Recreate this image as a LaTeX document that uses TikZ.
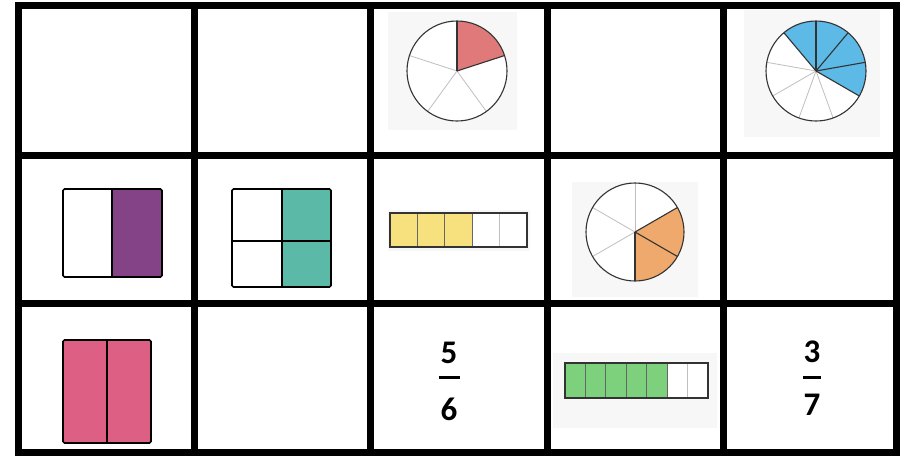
\documentclass[tikz,border=0pt]{standalone}
\usepackage{fontspec}
\newfontfamily\fracfont{Carlito}

\definecolor{picbg}{HTML}{F7F7F7}
\definecolor{sliceRed}{HTML}{E07A7A}
\definecolor{sliceBlue}{HTML}{5DB9E6}
\definecolor{sliceOrange}{HTML}{F0A96D}
\definecolor{partPurple}{HTML}{844387}
\definecolor{partTeal}{HTML}{5BB9A7}
\definecolor{partPink}{HTML}{DE5F84}
\definecolor{stripYellow}{HTML}{F7E07E}
\definecolor{stripGreen}{HTML}{7DD17C}

\tikzset{
  darkline/.style={line width=1.1pt, black!80},
  paleline/.style={line width=0.8pt, black!25},
  partline/.style={line width=1.6pt, black, rounded corners=1.5pt},
  gridline/.style={line width=7pt, black},
  fracdigit/.style={font=\fracfont\bfseries\fontsize{33}{33}\selectfont, inner sep=0pt, anchor=base},
  fracbar/.style={line width=3pt, black}
}

\begin{document}
\begin{tikzpicture}[x=1pt, y=-1pt]
  \useasboundingbox (0,0) rectangle (901,456);
  \fill[white] (0,0) rectangle (901,456);

  % Pie in row 1, column 3 : one fifth
  \fill[picbg] (388,12) rectangle (517,130);
  \fill[white] (457,71) circle (50pt);
  \fill[sliceRed] (457,71) -- ++(90:50pt) arc[start angle=90, end angle=18, radius=50pt] -- cycle;
  \draw[paleline] (457,71) -- ++(162:50pt);
  \draw[paleline] (457,71) -- ++(234:50pt);
  \draw[paleline] (457,71) -- ++(306:50pt);
  \draw[darkline] (457,71) -- ++(90:50pt);
  \draw[darkline] (457,71) -- ++(18:50pt);
  \draw[darkline] (457,71) circle (50pt);

  % Pie in row 1, column 5 : four ninths
  \fill[picbg] (744,10) rectangle (880,137);
  \fill[white] (816,71) circle (50pt);
  \fill[sliceBlue] (816,71) -- ++(130:50pt) arc[start angle=130, end angle=-30, radius=50pt] -- cycle;
  \foreach \a in {170,210,250,290}
    \draw[paleline] (816,71) -- ++(\a:50pt);
  \foreach \a in {130,90,50,10,-30}
    \draw[darkline] (816,71) -- ++(\a:50pt);
  \draw[darkline] (816,71) circle (50pt);

  % Pie in row 2, column 4 : two sixths
  \fill[picbg] (572,182) rectangle (698,297);
  \fill[white] (635,232) circle (49pt);
  \fill[sliceOrange] (635,232) -- ++(30:49pt) arc[start angle=30, end angle=-90, radius=49pt] -- cycle;
  \foreach \a in {90,150,210}
    \draw[paleline] (635,232) -- ++(\a:49pt);
  \foreach \a in {30,-30,-90}
    \draw[darkline] (635,232) -- ++(\a:49pt);
  \draw[darkline] (635,232) circle (49pt);

  % Halves and quarters
  \fill[white] (63,189) rectangle (112,277);
  \fill[partPurple] (112,189) rectangle (162,277);
  \draw[partline] (63,189) rectangle (162,277);
  \draw[line width=1.6pt] (112,189) -- (112,277);

  \fill[white] (232,189) rectangle (282,287);
  \fill[partTeal] (282,189) rectangle (331,287);
  \draw[partline] (232,189) rectangle (331,287);
  \draw[line width=1.6pt] (282,189) -- (282,287);
  \draw[line width=1.6pt] (232,241) -- (331,241);

  \fill[partPink] (63,340) rectangle (151,443);
  \draw[partline] (63,340) rectangle (151,443);
  \draw[line width=1.6pt] (107,340) -- (107,443);

  % Strips
  \fill[picbg] (388,210) rectangle (530,251);
  \fill[white] (390,213) rectangle (527,247);
  \fill[stripYellow] (390,213) rectangle (472.2,247);
  \draw[paleline] (499.6,213) -- (499.6,247);
  \draw[darkline, black!60] (417.4,213) -- (417.4,247);
  \draw[darkline, black!60] (444.8,213) -- (444.8,247);
  \draw[darkline, black!60] (472.2,213) -- (472.2,247);
  \draw[darkline] (390,213) rectangle (527,247);

  \fill[picbg] (553,353) rectangle (717,428);
  \fill[white] (565,363) rectangle (708,398);
  \fill[stripGreen] (565,363) rectangle (667.1,398);
  \draw[paleline] (687.6,363) -- (687.6,398);
  \foreach \x in {585.4,605.9,626.3,646.7,667.1}
    \draw[darkline, black!60] (\x,363) -- (\x,398);
  \draw[darkline] (565,363) rectangle (708,398);

  % Fractions
  \node[fracdigit] (num5) at (449,363) {5};
  \node[fracdigit] (den6) at (449,420) {6};
  \draw[fracbar] (438.5,377) -- (459.5,377);

  \node[fracdigit] (num3) at (812,362) {3};
  \node[fracdigit] (den7) at (812,415) {7};
  \draw[fracbar] (803,377) -- (821,377);

  % Grid
  \draw[gridline] (18.5,5.5) rectangle (896.5,452.5);
  \draw[gridline] (194,5.5) -- (194,452.5);
  \draw[gridline] (370.5,5.5) -- (370.5,452.5);
  \draw[gridline] (547,5.5) -- (547,452.5);
  \draw[gridline] (723.5,5.5) -- (723.5,452.5);
  \draw[gridline] (18.5,155) -- (896.5,155);
  \draw[gridline] (18.5,303.5) -- (896.5,303.5);

\end{tikzpicture}
\end{document}
